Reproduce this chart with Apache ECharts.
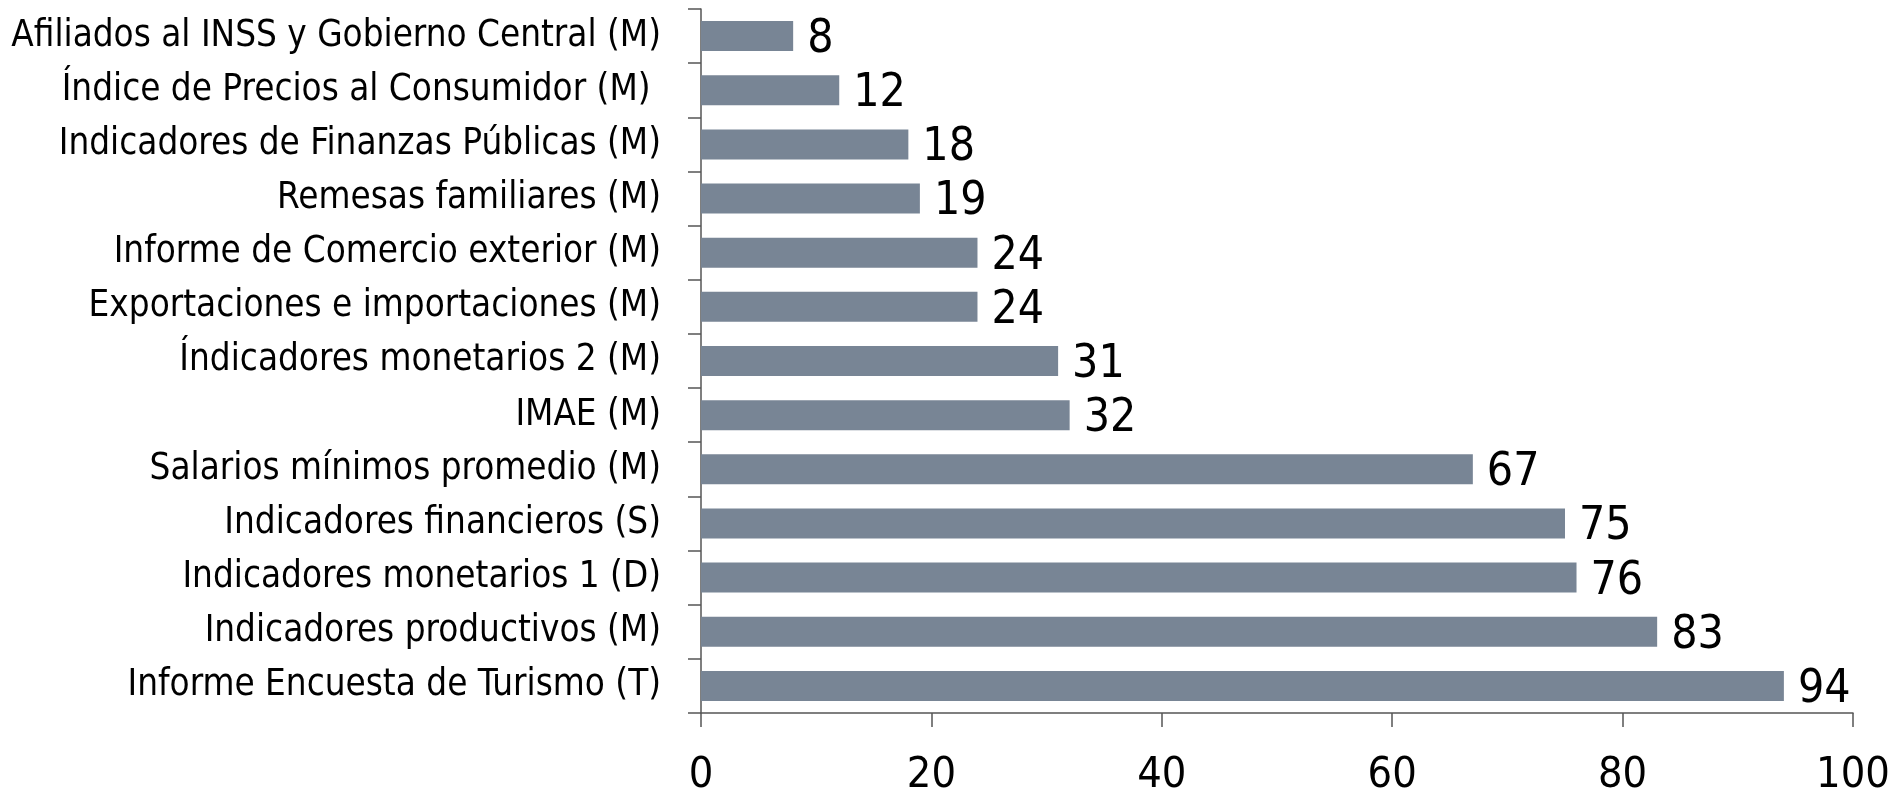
<!DOCTYPE html>
<html>
<head>
<meta charset="utf-8">
<script src="https://cdn.jsdelivr.net/npm/echarts@6/dist/echarts.min.js"></script>
<style>
html,body{margin:0;padding:0;background:#fff;}
#c{width:1890px;height:791px;}
</style>
</head>
<body>
<div id="c"></div>
<script>
const categories = [
  "Afiliados al INSS y Gobierno Central (M)",
  "Índice de Precios al Consumidor (M) ",
  "Indicadores de Finanzas Públicas (M)",
  "Remesas familiares (M)",
  "Informe de Comercio exterior (M)",
  "Exportaciones e importaciones (M)",
  "Índicadores monetarios 2 (M)",
  "IMAE (M)",
  "Salarios mínimos promedio (M)",
  "Indicadores financieros (S)",
  "Indicadores monetarios 1 (D)",
  "Indicadores productivos (M)",
  "Informe Encuesta de Turismo (T)"
];
const values = [8, 12, 18, 19, 24, 24, 31, 32, 67, 75, 76, 83, 94];
const xTicks = [0, 20, 40, 60, 80, 100];

const FONT = '"Liberation Sans Narrow", "DejaVu Sans Condensed", "Liberation Sans", sans-serif';
const chart = echarts.init(document.getElementById('c'), null, {renderer: 'canvas'});
chart.setOption({
  animation: false,
  backgroundColor: '#ffffff',
  grid: {left: 701, right: 37, top: 9, bottom: 78, containLabel: false, outerBoundsMode: 'none'},
  xAxis: {
    type: 'value',
    min: xTicks[0],
    max: xTicks[xTicks.length - 1],
    interval: 20,
    axisLine: {show: true, lineStyle: {color: '#555555', width: 1.5}},
    axisTick: {show: true, length: 14, lineStyle: {color: '#555555', width: 1.5}},
    splitLine: {show: false},
    axisLabel: {fontFamily: FONT, fontSize: 43, color: '#000', margin: 41}
  },
  yAxis: {
    type: 'category',
    data: categories,
    inverse: true,
    axisLine: {show: true, lineStyle: {color: '#555555', width: 1.5}},
    axisTick: {show: true, length: 13, alignWithLabel: false, lineStyle: {color: '#555555', width: 1.5}},
    axisLabel: {fontFamily: FONT, fontSize: 36.5, color: '#000', margin: 40}
  },
  series: [{
    type: 'bar',
    data: values,
    barWidth: 30,
    itemStyle: {color: '#788595'},
    label: {
      show: true,
      position: 'right',
      distance: 14,
      fontFamily: FONT,
      fontSize: 46,
      color: '#000',
      offset: [0, 4]
    }
  }]
});
</script>
</body>
</html>
